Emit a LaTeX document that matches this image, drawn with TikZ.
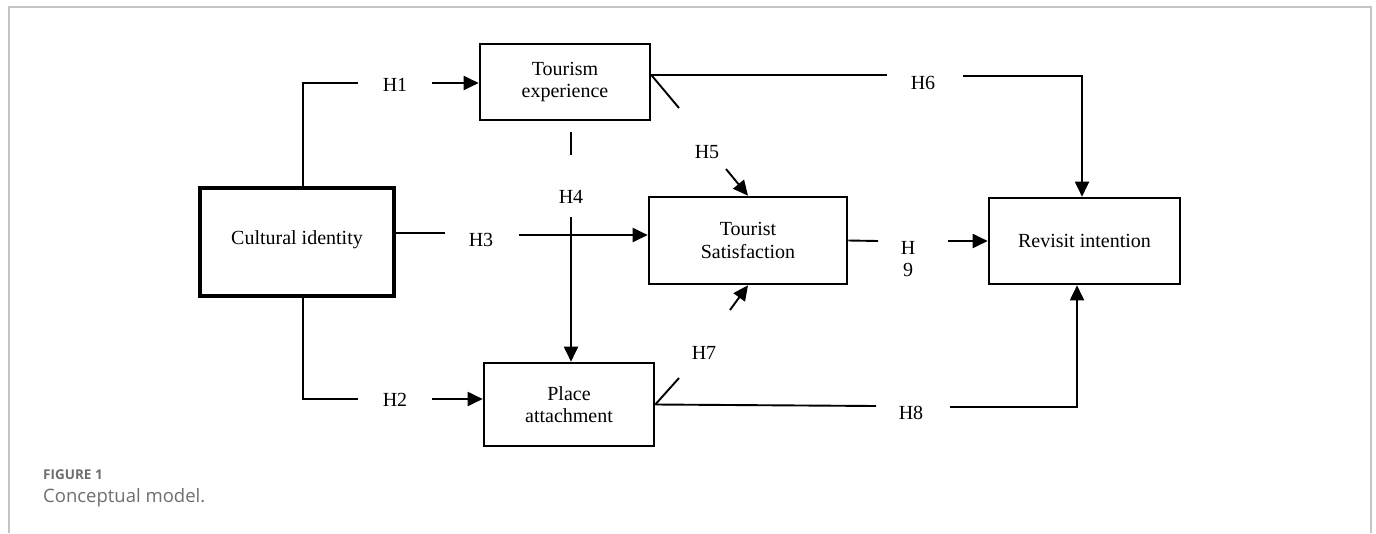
\documentclass[tikz,border=0pt]{standalone}
\usepackage{fontspec}
\setmainfont{Liberation Serif}
\newfontfamily\capfont{Open Sans}
\usetikzlibrary{arrows.meta, positioning, calc}
\definecolor{framegray}{HTML}{C4C4C4}
\definecolor{capgray}{HTML}{6E6E6E}

\begin{document}
\begin{tikzpicture}[
  x=1pt, y=-1pt,
  font=\fontsize{20}{22.5}\selectfont,
  cmbox/.style={draw=black, line width=2.6pt, align=center, inner sep=0pt},
  cmconn/.style={draw=black, line width=1.9pt},
  cmarr/.style={cmconn, -{Triangle[length=15pt, width=14pt]}},
  cmlbl/.style={inner sep=0pt, align=center}
]
\useasboundingbox (0,0) rectangle (1376,533);

% ---------------------------------------------- frame and caption
\draw[framegray, line width=1.4pt] (9,533) -- (9,7) -- (1371,7) -- (1371,533);
\node[anchor=west, inner sep=0pt, text=capgray] (fig) at (43,475)
  {\capfont\bfseries\fontsize{13.5}{15}\selectfont FIGURE 1};
\node[anchor=west, inner sep=0pt, text=capgray] (cap) at (43,498)
  {\capfont\fontsize{18.5}{21}\selectfont Conceptual model.};

% ---------------------------------------------- the constructs
\node[cmbox, line width=4.6pt, minimum width=194pt, minimum height=108pt] (ident) at (297,242)
  {\raisebox{9pt}{Cultural identity}};
\node[cmbox, minimum width=170pt, minimum height=76pt] (exper) at (565,82)
  {Tourism\\ experience};
\node[cmbox, minimum width=198pt, minimum height=87pt] (satis) at (748,240.5)
  {Tourist\\ Satisfaction};
\node[cmbox, minimum width=191pt, minimum height=86pt] (revis) at (1084.5,241)
  {Revisit intention};
\node[cmbox, minimum width=170pt, minimum height=83pt] (place) at (569,404.5)
  {Place\\ attachment};

% ---------------------------------------------- hypothesis labels
\node[cmlbl] (h1) at (395,85) {H1};
\node[cmlbl] (h2) at (395,400) {H2};
\node[cmlbl] (h3) at (481,240) {H3};
\node[cmlbl] (h4) at (571,197) {H4};
\node[cmlbl] (h5) at (707,152) {H5};
\node[cmlbl] (h6) at (923,83) {H6};
\node[cmlbl] (h7) at (704,353) {H7};
\node[cmlbl] (h8) at (911,413) {H8};
\node[cmlbl] (h9) at (908,259) {H\\ 9};

% ---------------------------------------------- line ends beside the labels
\coordinate (h1a) at (358,83);  \coordinate (h1b) at (432,83);
\coordinate (h2a) at (358,399); \coordinate (h2b) at (432,399);
\coordinate (h3a) at (445,233); \coordinate (h3b) at (519,235);
\coordinate (h4a) at (571,132); \coordinate (h4b) at (571,155);
\coordinate (h4c) at (571,217);
\coordinate (h5a) at (726,169); \coordinate (h5c) at (730,310);
\coordinate (h6a) at (887,75);  \coordinate (h6b) at (963,76);
\coordinate (h6d) at (679,108);
\coordinate (h7a) at (679,378);
\coordinate (h8a) at (876,406); \coordinate (h8b) at (950,407);
\coordinate (h9a) at (878,241); \coordinate (h9b) at (948,241);

% ---------------------------------------------- the paths
\draw[cmconn] ([xshift=6pt]ident.north) |- (h1a);
\draw[cmarr] (h1b) -- (h1b -| exper.west);

\draw[cmconn] ([xshift=6pt]ident.south) |- (h2a);
\draw[cmarr] (h2b) -- (h2b -| place.west);

\draw[cmconn] ([yshift=9pt]ident.east) -- (h3a);
\draw[cmarr] (h3b) -- (h3b -| satis.west);

\draw[cmconn] (h4a) -- (h4b);
\draw[cmarr] (h4c) -- (h4c |- place.north);

\draw[cmarr] (h5a) -- (satis.north);
\draw[cmarr] (h5c) -- (satis.south);

\draw[cmconn] ([yshift=7pt]exper.east) -- (h6a);
\draw[cmconn] ([yshift=7pt]exper.east) -- (h6d);
\draw[cmarr] (h6b) -| ([xshift=-2.5pt]revis.north);

\draw[cmconn] (h7a) -- (place.east);

\draw[cmconn] (place.east) -- (h8a);
\draw[cmarr] (h8b) -| ([xshift=-7.5pt]revis.south);

\draw[cmconn] (satis.east) -- (h9a);
\draw[cmarr] (h9b) -- (revis.west);

\end{tikzpicture}
\end{document}
